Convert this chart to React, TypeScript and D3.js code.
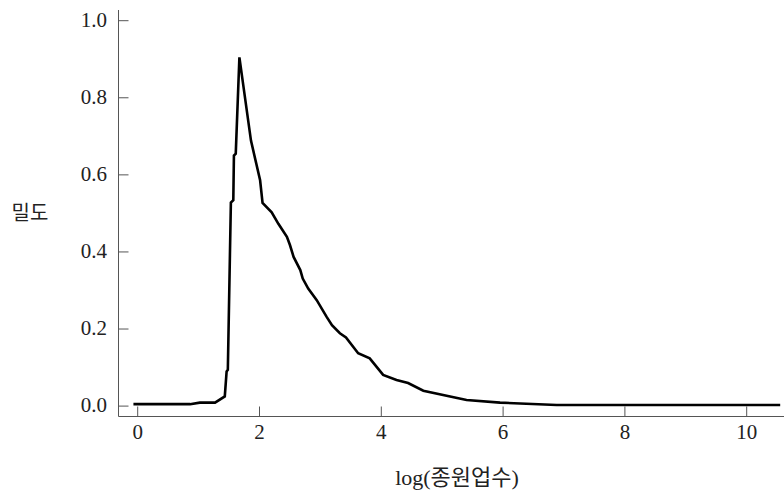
import React, { useRef, useEffect } from 'react';
import * as d3 from 'd3';

// log(종원업수) vs density
const logEmp = [-0.07, 0.86, 1.02, 1.27, 1.43, 1.46, 1.48, 1.53, 1.57, 1.58, 1.61, 1.67, 1.86, 2.01, 2.05, 2.2, 2.31, 2.45, 2.5, 2.56, 2.67, 2.71, 2.8, 2.94, 3.1, 3.19, 3.32, 3.42, 3.62, 3.81, 4.03, 4.25, 4.44, 4.69, 5.13, 5.4, 5.95, 6.88, 10.55];
const density = [0.005, 0.005, 0.009, 0.009, 0.025, 0.09, 0.094, 0.528, 0.534, 0.65, 0.655, 0.905, 0.689, 0.586, 0.527, 0.503, 0.473, 0.439, 0.418, 0.387, 0.353, 0.331, 0.305, 0.275, 0.232, 0.21, 0.189, 0.178, 0.137, 0.124, 0.081, 0.068, 0.06, 0.04, 0.025, 0.016, 0.009, 0.003, 0.003];
const xTicks = [0, 2, 4, 6, 8, 10];
const yTicks = [0, 0.2, 0.4, 0.6, 0.8, 1.0];

const W = 784;
const H = 491;

const App = () => {
  const svgRef = useRef<SVGSVGElement>(null);

  useEffect(() => {
    const svg = d3.select(svgRef.current);
    svg.selectAll('*').remove();

    const left = 118.5, right = 784, top = 10, bottom = 416.5;

    const x = d3.scaleLinear().domain([0, 10]).range([137.7, 746.7]);
    const y = d3.scaleLinear().domain([0, 1]).range([406.1, 20.7]);

    const axisColor = '#555';
    const font = '"Liberation Serif", "DejaVu Serif", serif';

    // y axis
    svg.append('line')
      .attr('x1', left).attr('x2', left)
      .attr('y1', top).attr('y2', bottom)
      .attr('stroke', axisColor).attr('stroke-width', 1);
    yTicks.forEach(t => {
      svg.append('line')
        .attr('x1', left).attr('x2', left + 10)
        .attr('y1', y(t)).attr('y2', y(t))
        .attr('stroke', axisColor).attr('stroke-width', 1);
      svg.append('text')
        .attr('x', 107).attr('y', y(t))
        .attr('dy', '0.28em')
        .attr('text-anchor', 'end')
        .attr('font-family', font)
        .attr('font-size', 21)
        .attr('fill', '#222')
        .text(t.toFixed(1));
    });

    // x axis
    svg.append('line')
      .attr('x1', left).attr('x2', right)
      .attr('y1', bottom).attr('y2', bottom)
      .attr('stroke', axisColor).attr('stroke-width', 1);
    xTicks.forEach(t => {
      svg.append('line')
        .attr('x1', x(t)).attr('x2', x(t))
        .attr('y1', bottom).attr('y2', bottom - 10)
        .attr('stroke', axisColor).attr('stroke-width', 1);
      svg.append('text')
        .attr('x', x(t)).attr('y', 439)
        .attr('text-anchor', 'middle')
        .attr('font-family', font)
        .attr('font-size', 21)
        .attr('fill', '#222')
        .text(t);
    });

    // axis titles
    svg.append('text')
      .attr('x', 30).attr('y', 220)
      .attr('text-anchor', 'middle')
      .attr('font-family', '"Noto Sans CJK KR", sans-serif')
      .attr('font-size', 20)
      .attr('fill', '#222')
      .text('밀도');
    svg.append('text')
      .attr('x', 457).attr('y', 485)
      .attr('text-anchor', 'middle')
      .attr('font-family', font + ', "Noto Sans CJK KR"')
      .attr('font-size', 22)
      .attr('fill', '#222')
      .text('log(종원업수)');

    const line = d3.line<number>()
      .x((d, i) => x(logEmp[i]))
      .y(d => y(d));

    svg.append('path')
      .attr('d', line(density))
      .attr('fill', 'none')
      .attr('stroke', '#000')
      .attr('stroke-width', 2.6)
      .attr('stroke-linejoin', 'miter');
  }, []);

  return (
    <svg ref={svgRef} width={W} height={H}
      style={{ position: 'absolute', left: 0, top: 0, background: '#fff' }} />
  );
};

export default App;
